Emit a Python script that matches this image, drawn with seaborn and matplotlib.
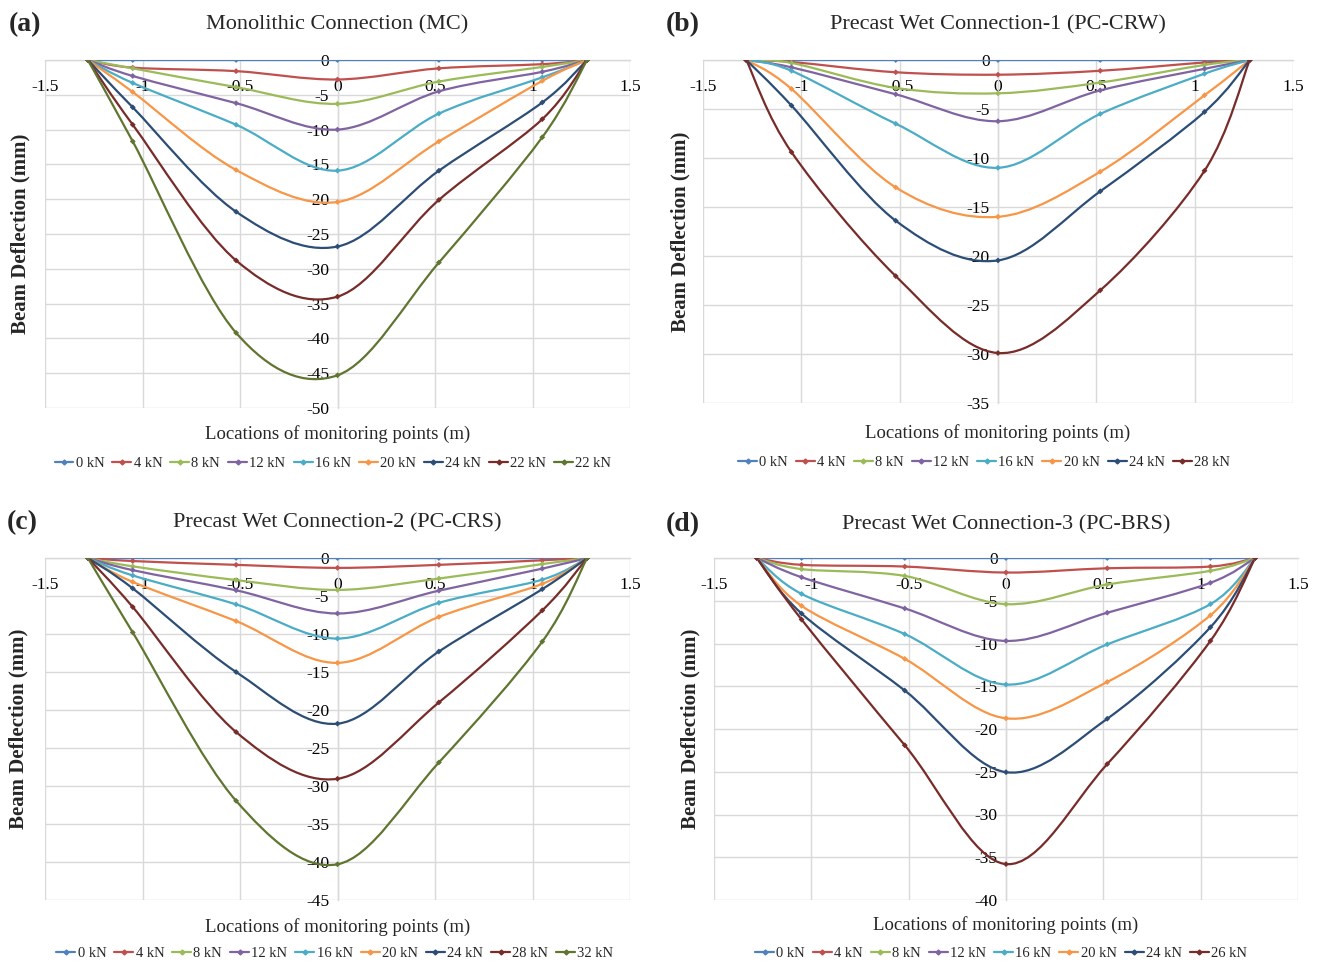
import numpy as np
import pandas as pd
import matplotlib
matplotlib.use("Agg")
import matplotlib.pyplot as plt
import seaborn as sns
from matplotlib.path import Path
from matplotlib.patches import PathPatch
from matplotlib.lines import Line2D

# monitoring point locations (m)
X_POS = [-1.28, -1.05, -0.52, 0.0, 0.52, 1.05, 1.28]

COLORS = ["#4F81BD", "#C0504D", "#9BBB59", "#8064A2", "#4BACC6",
          "#F79646", "#2C4D75", "#772C2A", "#5F7530"]

# (a) Monolithic Connection
MC_LOADS = ["0 kN", "4 kN", "8 kN", "12 kN", "16 kN", "20 kN", "24 kN", "22 kN", "22 kN"]
MC_DEFL = [
    [0, 0, 0, 0, 0, 0, 0],
    [0, -1.1, -1.6, -2.8, -1.2, -0.6, 0],
    [0, -1.2, -3.9, -6.3, -3.1, -1.0, 0],
    [0, -2.3, -6.2, -10.0, -4.5, -1.7, 0],
    [0, -3.3, -9.3, -15.9, -7.7, -2.5, 0],
    [0, -4.6, -15.8, -20.4, -11.7, -3.0, 0],
    [0, -6.8, -21.8, -26.8, -15.9, -6.1, 0],
    [0, -9.3, -28.8, -34.0, -20.1, -8.5, 0],
    [0, -11.7, -39.2, -45.3, -29.1, -11.1, 0],
]

# (b) PC-CRW
CRW_LOADS = ["0 kN", "4 kN", "8 kN", "12 kN", "16 kN", "20 kN", "24 kN", "28 kN"]
CRW_DEFL = [
    [0, 0, 0, 0, 0, 0, 0],
    [0, -0.2, -1.25, -1.5, -1.1, -0.25, 0],
    [0, -0.3, -2.85, -3.4, -2.3, -0.5, 0],
    [0, -0.75, -3.5, -6.25, -3.1, -0.9, 0],
    [0, -1.1, -6.5, -11.0, -5.5, -1.4, 0],
    [0, -2.95, -13.0, -16.0, -11.4, -3.6, 0],
    [0, -4.65, -16.4, -20.45, -13.4, -5.3, 0],
    [0, -9.4, -22.05, -29.9, -23.5, -11.3, 0],
]

# (c) PC-CRS
CRS_LOADS = ["0 kN", "4 kN", "8 kN", "12 kN", "16 kN", "20 kN", "24 kN", "28 kN", "32 kN"]
CRS_DEFL = [
    [0, 0, 0, 0, 0, 0, 0],
    [0, -0.4, -0.9, -1.3, -0.9, -0.3, 0],
    [0, -1.1, -2.9, -4.2, -2.7, -0.8, 0],
    [0, -1.6, -4.25, -7.3, -4.3, -1.4, 0],
    [0, -2.3, -6.1, -10.6, -5.9, -2.85, 0],
    [0, -3.15, -8.3, -13.8, -7.75, -3.4, 0],
    [0, -4.0, -15.0, -21.8, -12.3, -4.1, 0],
    [0, -6.45, -22.9, -29.05, -19.0, -6.9, 0],
    [0, -9.8, -31.95, -40.3, -26.9, -11.0, 0],
]

# (d) PC-BRS
BRS_LOADS = ["0 kN", "4 kN", "8 kN", "12 kN", "16 kN", "20 kN", "24 kN", "26 kN"]
BRS_DEFL = [
    [0, 0, 0, 0, 0, 0, 0],
    [0, -0.8, -1.0, -1.7, -1.2, -1.0, 0],
    [0, -1.3, -2.1, -5.4, -3.1, -1.5, 0],
    [0, -2.25, -5.9, -9.7, -6.4, -2.9, 0],
    [0, -4.2, -8.9, -14.8, -10.1, -5.4, 0],
    [0, -5.6, -11.8, -18.75, -14.5, -6.7, 0],
    [0, -6.5, -15.5, -25.05, -18.8, -8.1, 0],
    [0, -7.2, -21.9, -35.8, -24.1, -9.7, 0],
]

X_TICKS = [-1.5, -1, -0.5, 0, 0.5, 1, 1.5]

W, H = 1320, 964
SERIF = ["Liberation Serif", "DejaVu Serif"]
GRID = "#D9D9D9"

sns.set_theme(style="white")
plt.rcParams["font.family"] = SERIF
plt.rcParams["axes.unicode_minus"] = False


def smooth_path(xs, ys):
    # Excel-like smoothed line: cubic Bezier through every point
    pts = np.column_stack([xs, ys]).astype(float)
    n = len(pts)
    verts = [pts[0]]
    codes = [Path.MOVETO]
    for i in range(n - 1):
        p0 = pts[max(i - 1, 0)]
        p1 = pts[i]
        p2 = pts[i + 1]
        p3 = pts[min(i + 2, n - 1)]
        verts += [p1 + (p2 - p0) / 6, p2 - (p3 - p1) / 6, p2]
        codes += [Path.CURVE4] * 3
    return Path(verts, codes)


def px_box(left, right, top, bottom):
    return [left / W, 1 - bottom / H, (right - left) / W, (bottom - top) / H]


def panel(fig, box, ymin, loads, defl, letter, title, title_y, ylab_x, xlab_y, leg_x, leg_y, let_x):
    left, right, top, bottom = box
    ax = fig.add_axes(px_box(left, right, top, bottom))

    rows = []
    for i, ys in enumerate(defl):
        ax.add_patch(PathPatch(smooth_path(X_POS, ys), fill=False,
                               edgecolor=COLORS[i], lw=1.6, zorder=3))
        for x, y in zip(X_POS, ys):
            rows.append({"x": x, "y": y, "series": i})
    df = pd.DataFrame(rows)
    pal = {i: COLORS[i] for i in range(len(defl))}
    sns.scatterplot(data=df, x="x", y="y", hue="series", palette=pal,
                    marker="D", s=9, linewidth=0, legend=False, ax=ax, zorder=4)

    ax.set_xlim(-1.5, 1.5)
    ax.set_ylim(ymin, 0)
    ax.set_xticks(X_TICKS)
    ax.set_xticklabels([f"{v:g}" for v in X_TICKS])
    yt = list(range(0, ymin - 1, -5))
    ax.set_yticks(yt)
    ax.set_yticklabels([str(v) for v in yt])
    ax.grid(True, color=GRID, lw=1)
    ax.set_axisbelow(True)
    for s in ["top", "right"]:
        ax.spines[s].set_visible(False)
    ax.spines["bottom"].set_position(("data", 0))
    ax.spines["left"].set_position(("data", 0))
    for s in ["bottom", "left"]:
        ax.spines[s].set_color(GRID)
        ax.spines[s].set_linewidth(1)
    ax.tick_params(axis="x", length=0, pad=14, labelsize=12.5, colors="black")
    ax.tick_params(axis="y", length=0, pad=6, labelsize=12.5, colors="black")
    ax.set_xlabel("")
    ax.set_ylabel("")
    ax.patch.set_alpha(0)

    cx = (left + right) / 2 / W
    fig.text(let_x / W, 1 - title_y / H, letter, fontsize=20, fontweight="bold",
             ha="left", va="center")
    fig.text(cx, 1 - title_y / H, title, fontsize=16, ha="center", va="center")
    fig.text(ylab_x / W, 1 - (top + bottom) / 2 / H, "Beam Deflection (mm)",
             fontsize=15, fontweight="bold", rotation=90, ha="center", va="center")
    fig.text(cx, 1 - xlab_y / H, "Locations of monitoring points (m)",
             fontsize=13.5, ha="center", va="center")

    handles = [Line2D([], [], color=COLORS[i], lw=1.6, marker="D", markersize=2.5)
               for i in range(len(defl))]
    fig.legend(handles, loads, loc="center", ncol=len(loads), frameon=False,
               bbox_to_anchor=(leg_x / W, 1 - leg_y / H), fontsize=10.5,
               handlelength=1.3, handletextpad=0.15, columnspacing=0.55)
    return ax


fig = plt.figure(figsize=(W / 100, H / 100), dpi=100)

panel(fig, (45, 630, 60, 408), -50, MC_LOADS, MC_DEFL, "(a)",
      "Monolithic Connection (MC)", 25, 20, 434, 333, 463, 9)
panel(fig, (703, 1293, 60, 403), -35, CRW_LOADS, CRW_DEFL, "(b)",
      "Precast Wet Connection-1 (PC-CRW)", 25, 680, 433, 984, 462, 666)
panel(fig, (45, 630, 558, 900), -45, CRS_LOADS, CRS_DEFL, "(c)",
      "Precast Wet Connection-2 (PC-CRS)", 523, 18, 927, 335, 953, 7)
panel(fig, (714, 1298, 558, 900), -40, BRS_LOADS, BRS_DEFL, "(d)",
      "Precast Wet Connection-3 (PC-BRS)", 525, 690, 925, 1001, 953, 666)

fig.savefig("out.png", dpi=100)
